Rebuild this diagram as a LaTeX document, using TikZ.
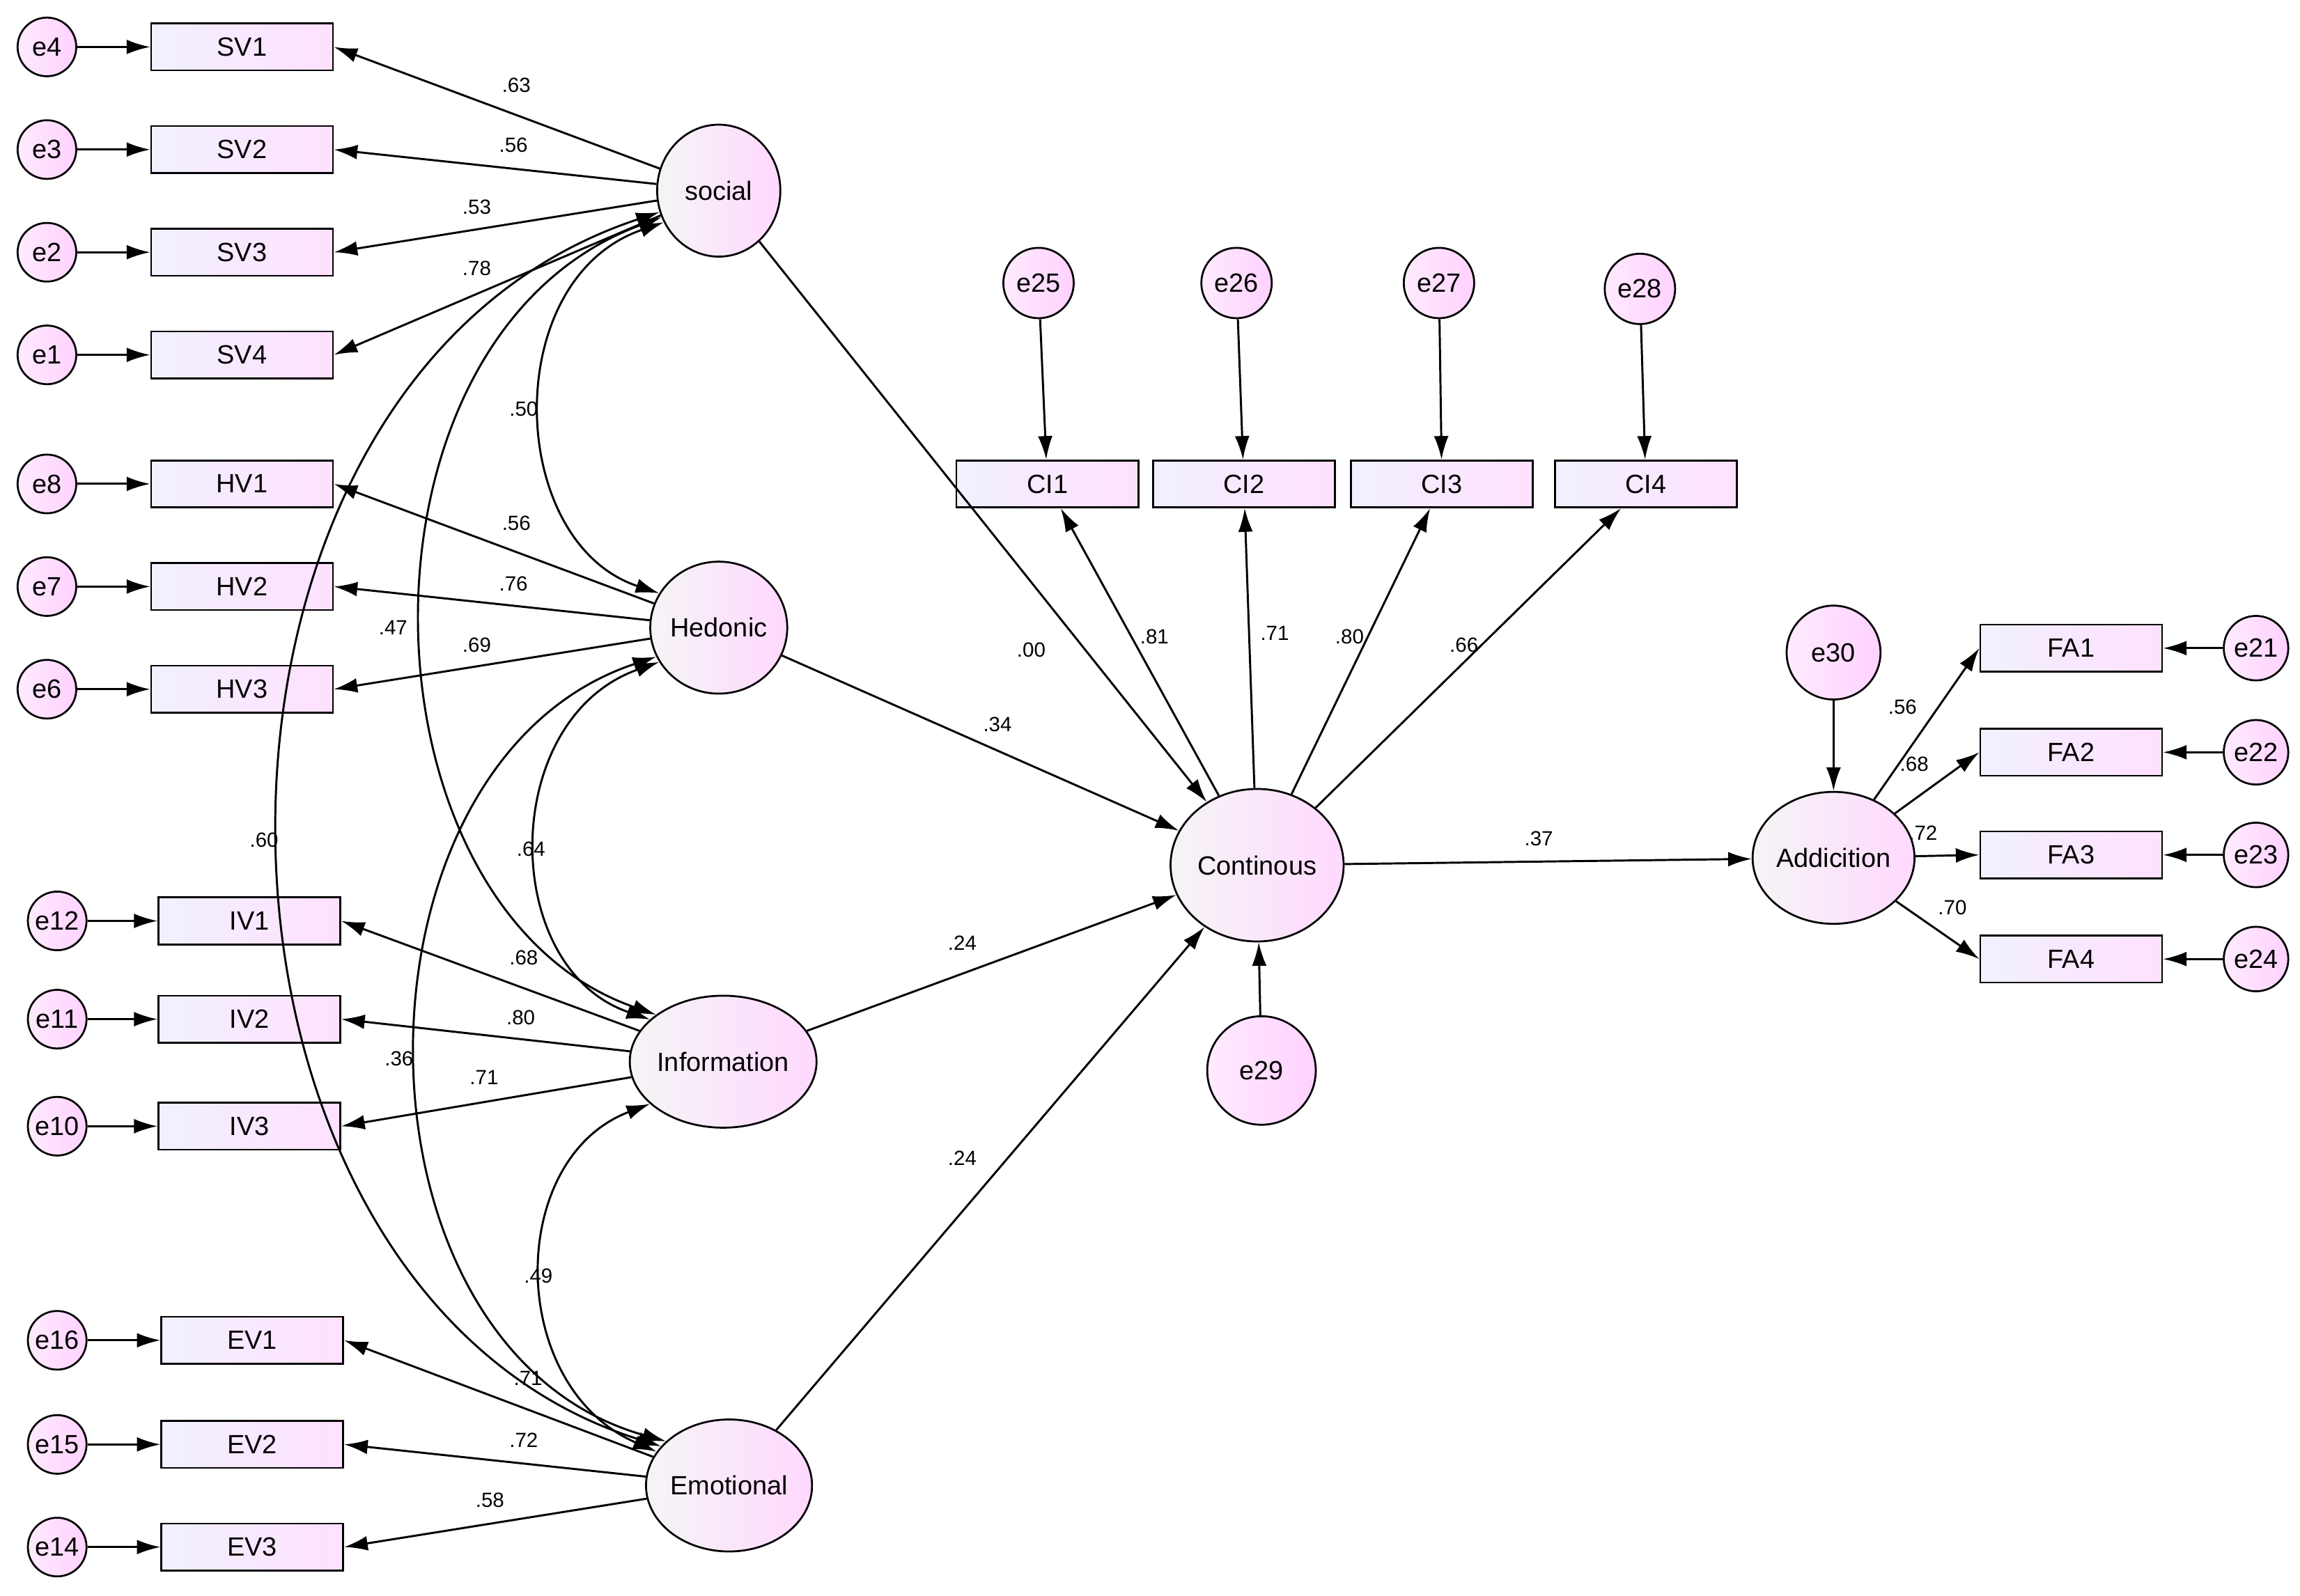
\documentclass[tikz,border=0pt]{standalone}
\usepackage{fontspec}
\setmainfont{Liberation Sans}
\usetikzlibrary{arrows.meta,shapes.geometric}
\begin{document}
\begin{tikzpicture}[x=1pt,y=-1pt,
 obs/.style={draw,line width=1.3pt,minimum width=124pt,minimum height=32pt,inner sep=0pt,left color=gray!12!blue!6,right color=magenta!12,font=\fontsize{18}{20}\selectfont},
 err/.style={draw,circle,line width=1.3pt,minimum size=40pt,inner sep=0pt,left color=magenta!8,right color=magenta!18,font=\fontsize{18}{20}\selectfont},
 lat/.style={draw,ellipse,line width=1.3pt,minimum width=84pt,minimum height=90pt,inner sep=0pt,left color=gray!8,right color=magenta!15,font=\fontsize{18}{20}\selectfont},
 lab/.style={font=\fontsize{14}{16}\selectfont,inner sep=1pt},
 arr/.style={line width=1.4pt,-{Latex[length=16pt,width=10pt]}},
 darr/.style={line width=1.4pt,{Latex[length=16pt,width=10pt]}-{Latex[length=16pt,width=10pt]}}]
\useasboundingbox[fill=white] (0,0) rectangle (1568,1088);
% latent
\node[lat] (social) at (490,130) {social};
\node[lat] (hed) at (490,428) {Hedonic};
\node[lat] (inf) at (493,724) {Information};
\node[lat] (emo) at (497,1013) {Emotional};
\node[lat,minimum width=118pt,minimum height=104pt] (con) at (857,590) {Continous};
\node[lat] (add) at (1250,585) {Addicition};
% left indicators
\foreach \n/\e/\x/\y in {SV1/e4/165/32,SV2/e3/165/102,SV3/e2/165/172,SV4/e1/165/242,HV1/e8/165/330,HV2/e7/165/400,HV3/e6/165/470}{
 \node[obs] (\n) at (\x,\y) {\n};
 \node[err] (\e) at (32,\y) {\e};
 \draw[arr] (\e) -- (\n);}
\foreach \n/\e/\x/\y in {IV1/e12/170/628,IV2/e11/170/695,IV3/e10/170/768,EV1/e16/172/914,EV2/e15/172/985,EV3/e14/172/1055}{
 \node[obs] (\n) at (\x,\y) {\n};
 \node[err] (\e) at (39,\y) {\e};
 \draw[arr] (\e) -- (\n);}
\foreach \n in {SV1,SV2,SV3,SV4}{\draw[arr] (social) -- (\n.east);}
\foreach \n in {HV1,HV2,HV3}{\draw[arr] (hed) -- (\n.east);}
\foreach \n in {IV1,IV2,IV3}{\draw[arr] (inf) -- (\n.east);}
\foreach \n in {EV1,EV2,EV3}{\draw[arr] (emo) -- (\n.east);}
% CI
\foreach \n/\e/\x/\ex/\ey in {CI1/e25/714/708/193,CI2/e26/848/843/193,CI3/e27/983/981/193,CI4/e28/1122/1118/197}{
 \node[obs] (\n) at (\x,330) {\n};
 \node[err,minimum size=48pt] (\e) at (\ex,\ey) {\e};
 \draw[arr] (\e) -- (\n);
 \draw[arr] (con) -- (\n);}
% FA
\foreach \n/\e/\y in {FA1/e21/442,FA2/e22/513,FA3/e23/583,FA4/e24/654}{
 \node[obs] (\n) at (1412,\y) {\n};
 \node[err,minimum size=44pt] (\e) at (1538,\y) {\e};
 \draw[arr] (\e) -- (\n);
 \draw[arr] (add) -- (\n.west);}
\node[err,minimum size=74pt] (e29) at (860,730) {e29};
\node[err,minimum size=64pt] (e30) at (1250,445) {e30};
\draw[arr] (e29) -- (con);
\draw[arr] (e30) -- (add);
\foreach \s in {social,hed,inf,emo}{\draw[arr] (\s) -- (con);}
\draw[arr] (con) -- (add);
% covariances
\draw[darr] (social.210) .. controls (340,190) and (345,370) .. (hed.150);
\draw[darr] (social.205) .. controls (230,230) and (240,620) .. (inf.145);
\draw[darr] (social.200) .. controls (100,260) and (110,880) .. (emo.150);
\draw[darr] (hed.210) .. controls (340,490) and (340,660) .. (inf.150);
\draw[darr] (hed.205) .. controls (230,520) and (230,920) .. (emo.145);
\draw[darr] (inf.210) .. controls (345,790) and (345,945) .. (emo.155);
% labels
\foreach \t/\x/\y [count=\i] in {.63/352/58,.56/350/99,.53/325/141,.78/325/183,.50/357/279,.56/352/357,.76/350/398,.47/268/428,.69/325/440,.64/362/579,.60/180/573,.68/357/653,.80/355/694,.36/272/722,.71/330/735,.49/367/870,.71/360/940,.72/357/982,.58/334/1023,.00/703/443,.81/787/434,.71/869/432,.80/920/434,.66/998/440,.34/680/494,.24/656/643,.24/656/790,.37/1049/572,.56/1297/482,.68/1305/521,.72/1311/568,.70/1331/619}{
 \node[lab] (l\i) at (\x,\y) {\t};}
\end{tikzpicture}
\end{document}
